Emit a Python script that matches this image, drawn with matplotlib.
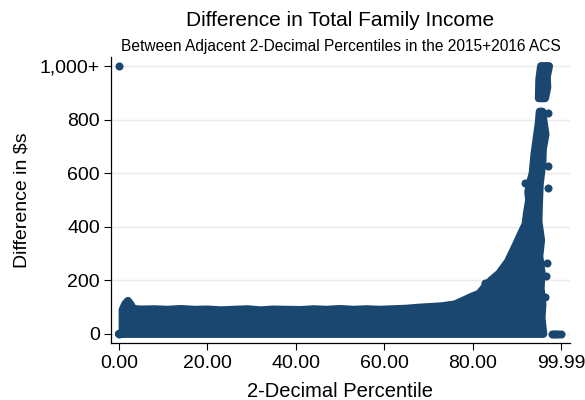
import matplotlib
matplotlib.use("Agg")
import matplotlib.pyplot as plt

plt.rcParams["font.family"] = ["Liberation Sans", "DejaVu Sans"]

navy = "#1a476f"

# outline of the dense cloud of percentile differences (percentile, $)
body_pct = [0.0, 0.8, 0.8, 1.4, 2.0, 2.6, 3.2, 5, 8, 11, 14, 17, 20, 23, 26, 29,
            32, 35, 38, 41, 44, 47, 50, 53, 56, 59, 62, 65, 68, 70, 73, 76, 78,
            80, 81.5, 83.0, 84.2, 86.0, 88.0, 89.6, 91.0, 92.0, 92.3, 92.8, 92.6,
            93.1, 93.6, 94.0, 94.4, 95.0, 95.2, 95.8, 96.0, 96.5, 95.9, 95.8,
            95.2, 95.0, 94.9, 95.5, 95.1, 95.6, 95.4, 95.8, 95.6, 96.0]
body_val = [0, 0, 90, 112, 123, 110, 93, 91, 92, 90, 93, 90, 91, 88, 90, 92,
            88, 91, 90, 89, 92, 90, 93, 90, 92, 90, 92, 94, 98, 100, 103, 110, 125,
            140, 150, 180, 200, 225, 270, 325, 375, 410, 450, 500, 530,
            570, 600, 670, 718, 790, 830, 830, 800, 745, 690, 640,
            560, 480, 420, 350, 290, 230, 170, 110, 60, 0]

# top-coded column at 1,000+
top_pct = [95.0, 95.1, 95.5, 97.3, 96.8, 96.9, 96.4]
top_val = [880, 950, 1000, 1000, 960, 920, 880]

# isolated points
stray_pct = [0.0, 0.0, 97.1, 97.1, 97.1, 91.9, 96.9, 96.7, 96.5, 82.8,
             97.9, 98.4, 98.9, 99.4, 99.99]
stray_val = [1000, 0, 826, 628, 545, 564, 264, 217, 138, 190,
             0, 0, 0, 0, 0]

yticks = [0, 200, 400, 600, 800, 1000]
ylabels = ["0", "200", "400", "600", "800", "1,000+"]
xticks = [0, 20, 40, 60, 80, 99.99]
xlabels = ["0.00", "20.00", "40.00", "60.00", "80.00", "99.99"]

fig = plt.figure(figsize=(5.85, 4.0), dpi=100)
ax = fig.add_axes([0.190, 0.1425, 0.784, 0.715])

dot_lw = 5.8  # marker diameter in points
ax.fill(body_pct, body_val, facecolor=navy, edgecolor=navy, linewidth=dot_lw,
        joinstyle="round", zorder=3)
ax.fill(top_pct, top_val, facecolor=navy, edgecolor=navy, linewidth=dot_lw,
        joinstyle="round", zorder=3)
ax.scatter(stray_pct, stray_val, s=dot_lw ** 2, color=navy, linewidths=0, zorder=3)

ax.set_xlim(-1.8, 102)
ax.set_ylim(-34, 1034)
ax.set_yticks(yticks)
ax.set_yticklabels(ylabels)
ax.set_xticks(xticks)
ax.set_xticklabels(xlabels)
ax.tick_params(labelsize=14, length=5, width=0.8, colors="black")
ax.tick_params(axis="y", pad=3)
ax.grid(axis="y", color="#eaeaea", linewidth=1.0, zorder=0)
ax.set_axisbelow(True)
for side in ["top", "right"]:
    ax.spines[side].set_visible(False)
for side in ["left", "bottom"]:
    ax.spines[side].set_linewidth(0.9)

ax.set_xlabel("2-Decimal Percentile", fontsize=14.5, labelpad=7)
ax.set_ylabel("Difference in \\$s", fontsize=14, labelpad=7)

fig.text(0.582, 0.935, "Difference in Total Family Income", ha="center", fontsize=15)
fig.text(0.582, 0.873, "Between Adjacent 2-Decimal Percentiles in the 2015+2016 ACS",
         ha="center", fontsize=11.2)

fig.savefig("out.png", dpi=100)
